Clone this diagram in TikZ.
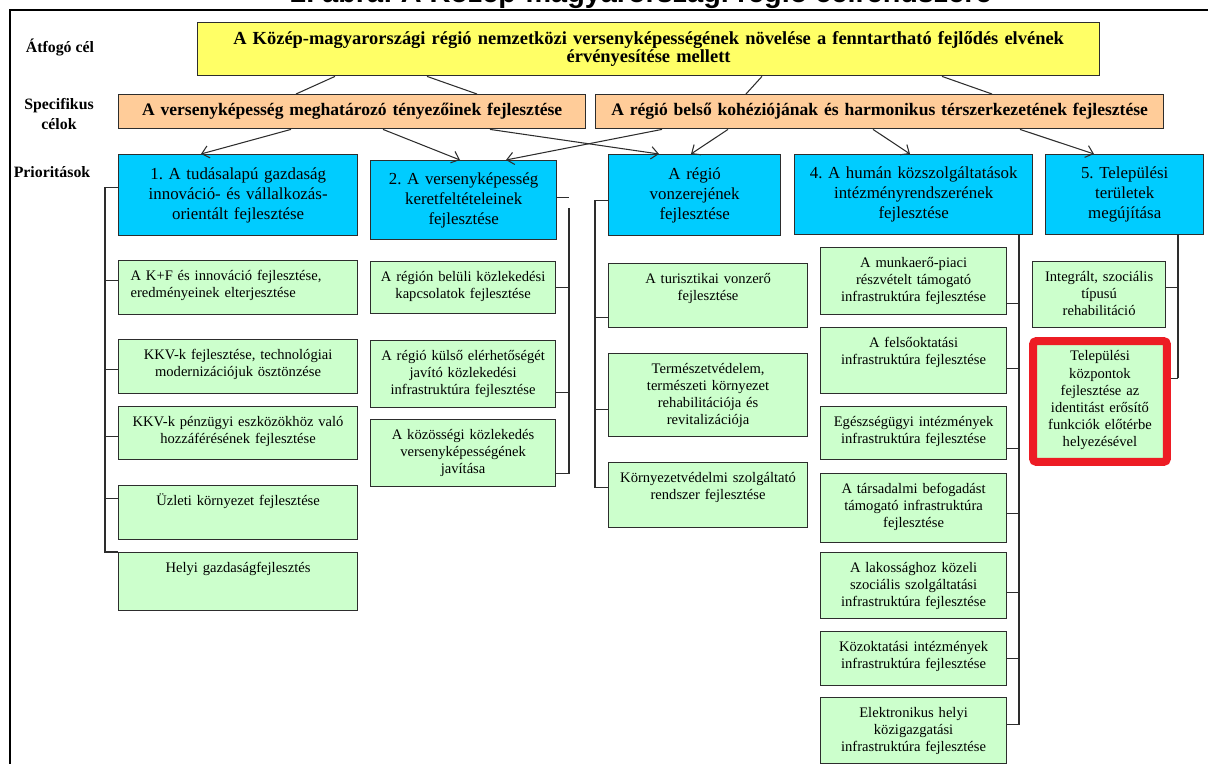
\documentclass[tikz,border=0pt]{standalone}
\usepackage{fontspec}
\setmainfont{Liberation Serif}
\newfontfamily\titlefont{Liberation Sans}
\usetikzlibrary{arrows.meta}
\frenchspacing

\definecolor{yelfill}{RGB}{255,255,102}
\definecolor{orfill}{RGB}{255,204,153}
\definecolor{bluefill}{RGB}{0,204,255}
\definecolor{grfill}{RGB}{204,255,204}
\definecolor{redline}{RGB}{237,28,36}
\definecolor{lineclr}{RGB}{45,45,45}

\begin{document}
\begin{tikzpicture}[x=0.02cm, y=-0.02cm,
    lbl/.style={font=\fontsize{9}{11}\selectfont\bfseries, align=center},
    celbox/.style={draw=lineclr, line width=0.8pt, anchor=north west, inner sep=0pt, align=center, font=\fontsize{10}{10.5}\selectfont\bfseries},
    priobox/.style={draw=lineclr, line width=0.8pt, fill=bluefill, anchor=north west, inner sep=0pt, align=center, font=\fontsize{9.6}{11.3}\selectfont},
    intbox/.style={draw=lineclr, line width=0.7pt, fill=grfill, anchor=north west, inner sep=0pt, align=center, text height=0.40cm, font=\fontsize{8.3}{9.7}\selectfont},
    link/.style={draw=lineclr, line width=0.6pt},
    arr/.style={link, -{Straight Barb[length=4pt, width=7pt]}}]
\useasboundingbox (0,0) rectangle (1208,764);

% frame and caption
\node[font=\titlefont\bfseries\fontsize{16.4}{18}\selectfont, anchor=base] (ttl) at (641,3) {2. ábra: A Közép-magyarországi régió célrendszere};
\draw[line width=1.1pt] (10,764) -- (10,10) -- (1208,10);

% row labels
\node[lbl] (l1) at (60,47) {Átfogó cél};
\node[lbl] (l2) at (59,114) {Specifikus\\célok};
\node[lbl] (l3) at (52,172) {Prioritások};

% goals
\node[celbox, fill=yelfill, font=\fontsize{10.5}{10.5}\selectfont\bfseries, text width=18.04cm, minimum height=1.06cm] (yel) at (197,22) {A Közép-magyarországi régió nemzetközi versenyképességének növelése a fenntartható fejlődés elvének\\érvényesítése mellett};
\node[celbox, fill=orfill, text width=9.34cm, minimum height=0.68cm] (o1) at (118,94) {A versenyképesség meghatározó tényezőinek fejlesztése};
\node[celbox, fill=orfill, text width=11.36cm, minimum height=0.68cm] (o2) at (595,94) {A régió belső kohéziójának és harmonikus térszerkezetének fejlesztése};

% priorities
\node[priobox, text width=4.78cm, minimum height=1.62cm] (p1) at (118,154) {1. A tudásalapú gazdaság\\innováció- és vállalkozás-\\orientált fejlesztése};
\node[priobox, text width=3.72cm, minimum height=1.58cm] (p2) at (370,160) {2. A versenyképesség\\keretfeltételeinek\\fejlesztése};
\node[priobox, text width=3.44cm, minimum height=1.62cm] (p3) at (608,154) {A régió\\vonzerejének\\fejlesztése};
\node[priobox, text width=4.76cm, minimum height=1.60cm] (p4) at (794,154) {4. A humán közszolgáltatások\\intézményrendszerének\\fejlesztése};
\node[priobox, text width=3.16cm, minimum height=1.60cm] (p5) at (1045,154) {5. Települési\\területek\\megújítása};

% measures, column 1
\node[intbox, align=left, inner xsep=0.24cm, text width=4.30cm, text depth=0.68cm] (g11) at (118,260) {A K+F és innováció fejlesztése,\\eredményeinek elterjesztése};
\node[intbox, text width=4.78cm, text depth=0.68cm] (g12) at (118,339) {KKV-k fejlesztése, technológiai\\modernizációjuk ösztönzése};
\node[intbox, text width=4.78cm, text depth=0.66cm] (g13) at (118,406) {KKV-k pénzügyi eszközökhöz való\\hozzáférésének fejlesztése};
\node[intbox, text width=4.78cm, text depth=0.68cm] (g14) at (118,485) {Üzleti környezet fejlesztése};
\node[intbox, text width=4.78cm, text depth=0.76cm] (g15) at (118,552) {Helyi gazdaságfejlesztés};

% column 2
\node[intbox, text width=3.70cm, text depth=0.64cm] (g21) at (370,261) {A régión belüli közlekedési\\kapcsolatok fejlesztése};
\node[intbox, text width=3.70cm, text depth=0.94cm] (g22) at (370,340) {A régió külső elérhetőségét\\javító közlekedési\\infrastruktúra fejlesztése};
\node[intbox, text width=3.70cm, text depth=0.94cm] (g23) at (370,419) {A közösségi közlekedés\\versenyképességének\\javítása};

% column 3
\node[intbox, text width=3.98cm, text depth=0.88cm] (g31) at (608,263) {A turisztikai vonzerő\\fejlesztése};
\node[intbox, text width=3.98cm, text depth=1.26cm] (g32) at (608,353) {Természetvédelem,\\természeti környezet\\rehabilitációja és\\revitalizációja};
\node[intbox, text width=3.98cm, text depth=0.90cm] (g33) at (608,462) {Környezetvédelmi szolgáltató\\rendszer fejlesztése};

% column 4
\node[intbox, text width=3.72cm, text depth=0.94cm] (g41) at (820,247) {A munkaerő-piaci\\részvételt támogató\\infrastruktúra fejlesztése};
\node[intbox, text width=3.72cm, text depth=0.92cm] (g42) at (820,327) {A felsőoktatási\\infrastruktúra fejlesztése};
\node[intbox, text width=3.72cm, text depth=0.66cm] (g43) at (820,406) {Egészségügyi intézmények\\infrastruktúra fejlesztése};
\node[intbox, text width=3.72cm, text depth=0.98cm] (g44) at (820,473) {A társadalmi befogadást\\támogató infrastruktúra\\fejlesztése};
\node[intbox, text width=3.72cm, text depth=0.92cm] (g45) at (820,552) {A lakossághoz közeli\\szociális szolgáltatási\\infrastruktúra fejlesztése};
\node[intbox, text width=3.72cm, text depth=0.68cm] (g46) at (820,631) {Közoktatási intézmények\\infrastruktúra fejlesztése};
\node[intbox, text width=3.72cm, text depth=0.92cm] (g47) at (820,697) {Elektronikus helyi\\közigazgatási\\infrastruktúra fejlesztése};

% column 5
\node[intbox, text width=2.66cm, text depth=0.92cm] (g51) at (1032,261) {Integrált, szociális\\típusú\\rehabilitáció};
\node[intbox, draw=redline, line width=0.16cm, rounded corners=2pt, text width=2.68cm, text depth=2.02cm] (g52) at (1029,337) {Települési\\központok\\fejlesztése az\\identitást erősítő\\funkciók előtérbe\\helyezésével};

% goal links
\draw[link] (335,0 |- yel.south) -- (296,0 |- o1.north);
\draw[link] (427,0 |- yel.south) -- (477,0 |- o1.north);
\draw[link] (762,0 |- yel.south) -- (746,0 |- o2.north);
\draw[link] (942,0 |- yel.south) -- (992,0 |- o2.north);

\draw[arr] (291,0 |- o1.south) -- (201,0 |- p1.north);
\draw[arr] (383,0 |- o1.south) -- (460,0 |- p2.north);
\draw[arr] (490,0 |- o1.south) -- (659,0 |- p3.north);
\draw[arr] (662,0 |- o2.south) -- (506,0 |- p2.north);
\draw[arr] (728,0 |- o2.south) -- (691,0 |- p3.north);
\draw[arr] (873,0 |- o2.south) -- (910,0 |- p4.north);
\draw[arr] (1020,0 |- o2.south) -- (1094,0 |- p5.north);

% brackets
\coordinate (v1) at (105,0);
\coordinate (v2) at (569,208);
\coordinate (v3) at (595,0);
\coordinate (v4) at (1019,0 |- p4.south);
\coordinate (v5) at (1178,0 |- p5.south);

\draw[link] (p1.west) ++(0,-7.5) coordinate (s10) -- (s10 -| v1) -- (v1 |- g15.north west) -- (g15.north west);
\draw[link] (g11.west) ++(0,-7) coordinate (s11) -- (s11 -| v1);
\draw[link] (g12.west) ++(0,3) coordinate (s12) -- (s12 -| v1);
\draw[link] (g13.west) ++(0,3.5) coordinate (s13) -- (s13 -| v1);
\draw[link] (g14.west) ++(0,-14) coordinate (s14) -- (s14 -| v1);

\draw[link] (p2.east) ++(0,-2.5) coordinate (s20) -- (s20 -| v2);
\draw[link] (g21.east) -- (g21.east -| v2);
\draw[link] (g22.east) ++(0,18.5) coordinate (s22) -- (s22 -| v2);
\draw[link] (g23.east) ++(0,20.5) coordinate (s23) -- (s23 -| v2);
\draw[link] (v2) -- (v2 |- s23);

\draw[link] (g31.west) ++(0,22) coordinate (s31) -- (s31 -| v3);
\draw[link] (g32.west) ++(0,14.5) coordinate (s32) -- (s32 -| v3);
\draw[link] (g33.west) ++(0,-7.5) coordinate (s33) -- (s33 -| v3);
\draw[link] (p3.west) ++(0,5.5) coordinate (s30) -- (s30 -| v3) -- (v3 |- s33);

\draw[link] (g41.east) ++(0,22.5) coordinate (s41) -- (s41 -| v4);
\draw[link] (g42.east) ++(0,8) coordinate (s42) -- (s42 -| v4);
\draw[link] (g43.east) ++(0,15.5) coordinate (s43) -- (s43 -| v4);
\draw[link] (g44.east) ++(0,5.5) coordinate (s44) -- (s44 -| v4);
\draw[link] (g45.east) ++(0,7) coordinate (s45) -- (s45 -| v4);
\draw[link] (g46.east) -- (g46.east -| v4);
\draw[link] (g47.east) ++(0,-6) coordinate (s47) -- (s47 -| v4);
\draw[link] (v4) -- (v4 |- s47);

\draw[link] (g51.east) ++(0,-7) coordinate (s51) -- (s51 -| v5);
\draw[link] (g52.east) ++(0,-23) coordinate (s52) -- (s52 -| v5);
\draw[link] (v5) -- (v5 |- s52);
\end{tikzpicture}
\end{document}
